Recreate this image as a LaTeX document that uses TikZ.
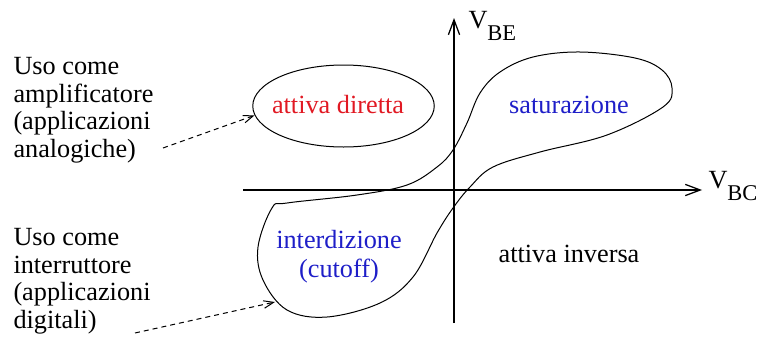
\documentclass[tikz,border=0pt]{standalone}
\usepackage{fontspec}
\setmainfont{Liberation Serif}
\usetikzlibrary{arrows.meta,shapes.geometric}
\definecolor{regred}{RGB}{225,25,35}
\definecolor{regblue}{RGB}{30,30,200}
\newcommand{\vlab}[1]{{\fontsize{10.5}{11}\selectfont V}\raisebox{-5pt}{\fontsize{9}{9}\selectfont #1}}
\begin{document}
\begin{tikzpicture}[x=0.4pt,y=-0.4pt,font=\fontsize{10.5}{11}\selectfont,
  axis/.style={-{Straight Barb[length=6pt,width=4.5pt]},line width=0.5pt},
  hint/.style={dash pattern=on 2pt off 1.6pt,-{Straight Barb[length=4pt,width=3pt]}},
  note/.style={align=left,anchor=base west,inner sep=0pt},
  region/.style={anchor=base,inner sep=0pt,align=center}]
  \useasboundingbox (0,0) rectangle (758,340);
  % axes
  \coordinate (bcl) at (243,190); \coordinate (bcr) at (702,190);
  \coordinate (beb) at (454,323); \coordinate (bet) at (454,18);
  \draw[axis] (bcl) -- (bcr); \draw[axis] (beb) -- (bet);
  \node[anchor=base west,inner sep=0pt] (vbc) at (708,188) {\vlab{BC}};
  \node[anchor=base west,inner sep=0pt] (vbe) at (468,28) {\vlab{BE}};
  % regions
  \node[ellipse,draw,minimum width=72.6pt,minimum height=32.8pt,inner sep=0pt] (diretta) at (343.5,106) {};
  \node[region,text=regred] (tdiretta) at (338,113) {attiva diretta};
  \draw plot[smooth cycle,tension=0.6] coordinates {(453,150) (467,123) (480,93) (500,72) (533,57)
    (580,52) (635,58) (662,70) (672,88) (663,107) (607,135) (540,152) (493,167) (470,187) (453,208)
    (437,233) (413,277) (380,303) (327,317) (287,310) (263,280) (258,247) (272,208) (287,203)
    (357,195) (407,185) (437,167)};
  \coordinate (cv) at (275,302);
  \node[region,text=regblue] (sat) at (569,113) {saturazione};
  \node[region,text=regblue] (interd) at (339,277) {interdizione\\[0.6pt](cutoff)};
  \node[region] (inversa) at (569,262) {attiva inversa};
  % uses
  \node[note] (ampl) at (13,157) {Uso come\\amplificatore\\(applicazioni\\analogiche)};
  \node[note] (interr) at (13,328) {Uso come\\interruttore\\(applicazioni\\digitali)};
  \coordinate (a1) at (163,148); \coordinate (a2) at (135,333);
  \draw[hint] (a1) -- (diretta.186);
  \draw[hint] (a2) -- (cv);
\end{tikzpicture}
\end{document}
